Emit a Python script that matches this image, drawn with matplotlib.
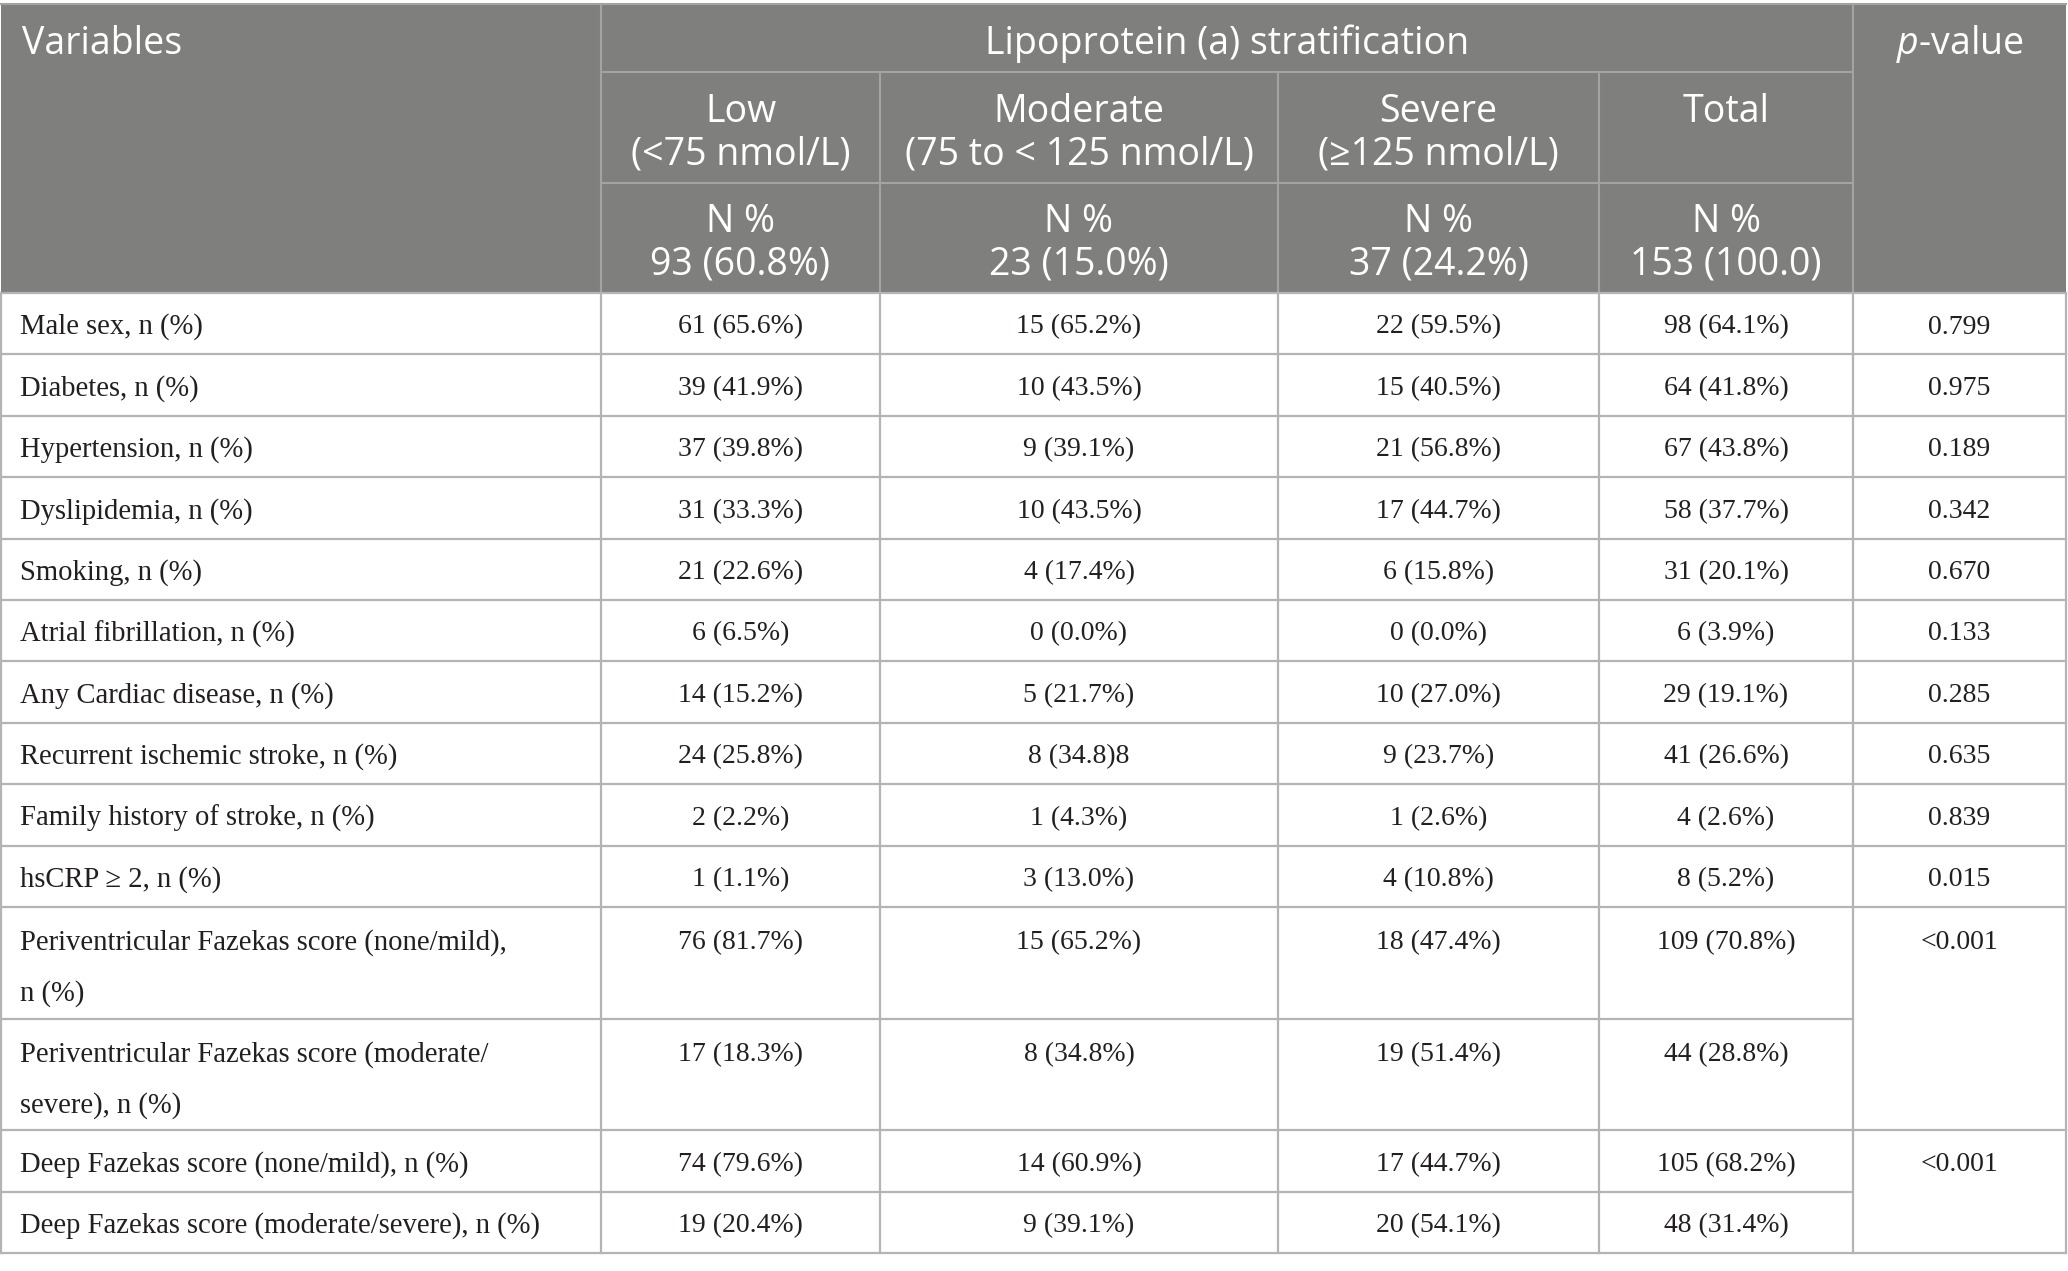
import matplotlib
matplotlib.use('Agg')
import matplotlib.pyplot as plt

plt.rcParams['mathtext.fontset'] = 'custom'
plt.rcParams['mathtext.it'] = 'Open Sans:italic'
plt.rcParams['mathtext.rm'] = 'Open Sans'

# table content
variables = [
    'Male sex, n (%)',
    'Diabetes, n (%)',
    'Hypertension, n (%)',
    'Dyslipidemia, n (%)',
    'Smoking, n (%)',
    'Atrial fibrillation, n (%)',
    'Any Cardiac disease, n (%)',
    'Recurrent ischemic stroke, n (%)',
    'Family history of stroke, n (%)',
    'hsCRP \u2265 2, n (%)',
    'Periventricular Fazekas score (none/mild),\nn (%)',
    'Periventricular Fazekas score (moderate/\nsevere), n (%)',
    'Deep Fazekas score (none/mild), n (%)',
    'Deep Fazekas score (moderate/severe), n (%)',
]
low = ['61 (65.6%)', '39 (41.9%)', '37 (39.8%)', '31 (33.3%)', '21 (22.6%)', '6 (6.5%)',
       '14 (15.2%)', '24 (25.8%)', '2 (2.2%)', '1 (1.1%)', '76 (81.7%)', '17 (18.3%)',
       '74 (79.6%)', '19 (20.4%)']
moderate = ['15 (65.2%)', '10 (43.5%)', '9 (39.1%)', '10 (43.5%)', '4 (17.4%)', '0 (0.0%)',
            '5 (21.7%)', '8 (34.8)8', '1 (4.3%)', '3 (13.0%)', '15 (65.2%)', '8 (34.8%)',
            '14 (60.9%)', '9 (39.1%)']
severe = ['22 (59.5%)', '15 (40.5%)', '21 (56.8%)', '17 (44.7%)', '6 (15.8%)', '0 (0.0%)',
          '10 (27.0%)', '9 (23.7%)', '1 (2.6%)', '4 (10.8%)', '18 (47.4%)', '19 (51.4%)',
          '17 (44.7%)', '20 (54.1%)']
total = ['98 (64.1%)', '64 (41.8%)', '67 (43.8%)', '58 (37.7%)', '31 (20.1%)', '6 (3.9%)',
         '29 (19.1%)', '41 (26.6%)', '4 (2.6%)', '8 (5.2%)', '109 (70.8%)', '44 (28.8%)',
         '105 (68.2%)', '48 (31.4%)']
p_values = ['0.799', '0.975', '0.189', '0.342', '0.670', '0.133', '0.285', '0.635', '0.839',
            '0.015', '<0.001', None, '<0.001', None]

group_title = 'Lipoprotein (a) stratification'
group_names = ['Low\n(<75 nmol/L)', 'Moderate\n(75 to < 125 nmol/L)', 'Severe\n(\u2265125 nmol/L)', 'Total']
group_counts = ['N %\n93 (60.8%)', 'N %\n23 (15.0%)', 'N %\n37 (24.2%)', 'N %\n153 (100.0)']

# layout (pixels)
W, H = 2068, 1271
col_x = [1, 601, 880, 1278, 1599, 1853, 2066]
head_y = [4, 72, 183, 293]
row_h = {1: 61.4, 2: 111.7}
n_lines = [len(v.split('\n')) for v in variables]

head_bg = '#7f807e'
head_line = '#a3a4a2'
grid = '#b4b4b4'
txt = '#231f20'
sans = ['Open Sans', 'DejaVu Sans']
serif = ['Liberation Serif', 'DejaVu Serif']
hs = 27
ds = 20
ls = 20.6

fig = plt.figure(figsize=(W / 100, H / 100), dpi=100)
ax = fig.add_axes([0, 0, 1, 1])
ax.set_xlim(0, W)
ax.set_ylim(H, 0)
ax.axis('off')

# header block
ax.add_patch(plt.Rectangle((col_x[0], head_y[0]), col_x[-1] - col_x[0], head_y[-1] - head_y[0],
                           facecolor=head_bg, edgecolor='none'))
ax.plot([col_x[0], col_x[-1]], [head_y[0], head_y[0]], color=head_line, lw=1.5)
for y in head_y[1:3]:
    ax.plot([col_x[1], col_x[5]], [y, y], color=head_line, lw=1.5)
for x in (col_x[1], col_x[5]):
    ax.plot([x, x], [head_y[0], head_y[3]], color=head_line, lw=1.5)
for x in col_x[2:5]:
    ax.plot([x, x], [head_y[1], head_y[3]], color=head_line, lw=1.5)

def cell_lines(s, xc, ytop, ha, step, color, fam, size):
    for i, line in enumerate(s.split('\n')):
        ax.text(xc, ytop + i * step, line, ha=ha, va='center', color=color,
                family=fam, fontsize=size)

ax.text(22, 44, 'Variables', ha='left', va='center', color='white', family=sans, fontsize=hs)
ax.text((col_x[1] + col_x[5]) / 2, 44, group_title, ha='center', va='center', color='white',
        family=sans, fontsize=hs)
ax.text((col_x[5] + col_x[6]) / 2, 44, r'$\mathit{p}$-value', ha='center', va='center',
        color='white', family=sans, fontsize=hs)
for j in range(4):
    xc = (col_x[j + 1] + col_x[j + 2]) / 2
    cell_lines(group_names[j], xc, 112, 'center', 43, 'white', sans, hs)
    cell_lines(group_counts[j], xc, 222, 'center', 43, 'white', sans, hs)

# body
columns = [low, moderate, severe, total]
y = head_y[3]
tops = []
for k, var in enumerate(variables):
    h = row_h[n_lines[k]]
    tops.append(y)
    first = y + (34 if n_lines[k] == 1 else 36)
    cell_lines(var, 20, first, 'left', 51, txt, serif, ls)
    for j, col in enumerate(columns):
        xc = (col_x[j + 1] + col_x[j + 2]) / 2
        ax.text(xc, first, col[k], ha='center', va='center', color=txt, family=serif, fontsize=ds)
    if p_values[k] is not None:
        ax.text((col_x[5] + col_x[6]) / 2, first, p_values[k], ha='center', va='center',
                color=txt, family=serif, fontsize=ds)
    y += h
bottom = y

# grid lines
for k, t in enumerate(tops[1:], start=1):
    x_end = col_x[5] if p_values[k] is None else col_x[6]
    ax.plot([col_x[0], x_end], [t, t], color=grid, lw=1.6)
ax.plot([col_x[0], col_x[6]], [head_y[3], head_y[3]], color=grid, lw=1.6)
ax.plot([col_x[0], col_x[6]], [bottom, bottom], color=grid, lw=1.6)
for x in col_x:
    ax.plot([x, x], [head_y[3], bottom], color=grid, lw=1.6)

fig.savefig('out.png', dpi=100, facecolor='white')
